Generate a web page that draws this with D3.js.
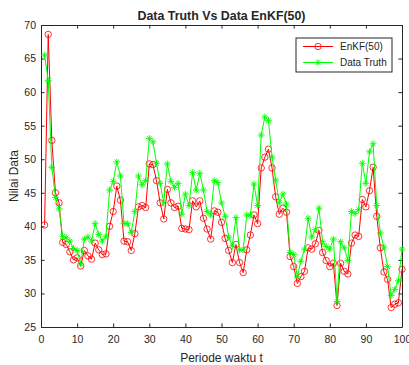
<!DOCTYPE html>
<html>
<head>
<meta charset="utf-8">
<script src="https://cdn.jsdelivr.net/npm/d3@7"></script>
<style>
  body { margin: 0; background: #fff; }
  text { font-family: "Liberation Sans", Arial, sans-serif; fill: #262626; }
</style>
</head>
<body>
<script>
// periode waktu t = 1..100
const periods = d3.range(1, 101);

const enkfValues = [
  40.2, 68.6, 52.8, 45.0, 43.5, 37.6, 37.3, 36.2, 35.0, 35.3,
  34.1, 36.4, 35.6, 35.1, 37.5, 36.5, 35.8, 35.9, 40.0, 42.2,
  46.0, 43.9, 37.8, 37.7, 36.4, 38.9, 42.9, 43.1, 42.8, 49.3,
  49.2, 46.8, 43.5, 41.1, 45.5, 43.5, 42.8, 43.0, 39.7, 39.6,
  39.5, 43.8, 42.9, 43.8, 41.2, 39.6, 38.1, 42.3, 42.1, 40.6,
  38.2, 36.4, 34.6, 37.3, 34.6, 33.1, 36.5, 38.7, 41.7, 40.4,
  48.7, 50.3, 51.5, 48.7, 44.4, 41.8, 42.7, 42.1, 35.5, 34.0,
  31.5, 32.5, 33.3, 36.8, 36.6, 37.4, 39.4, 36.1, 34.9, 34.0,
  34.5, 28.2, 34.5, 33.3, 32.9, 37.5, 38.7, 38.5, 44.0, 42.9,
  45.3, 48.8, 41.5, 36.8, 33.2, 32.1, 27.9, 28.4, 28.6, 33.6
];

const truthValues = [
  65.5, 61.7, 48.8, 44.3, 42.6, 38.5, 38.3, 37.8, 36.7, 36.4,
  34.4, 38.1, 38.4, 37.8, 40.4, 38.8, 37.8, 38.5, 45.4, 46.7,
  49.6, 47.5, 40.4, 40.4, 39.1, 42.2, 47.5, 46.2, 46.8, 53.1,
  52.6, 49.4, 46.4, 43.5, 49.3, 46.7, 45.8, 46.4, 41.8, 44.8,
  43.1, 48.0, 45.4, 47.9, 45.4, 42.2, 41.7, 46.8, 46.5, 43.5,
  41.5, 38.4, 37.1, 41.3, 36.5, 36.5, 41.7, 41.7, 46.3, 43.1,
  53.6, 56.3, 55.8, 50.3, 46.9, 43.5, 44.8, 43.3, 36.1, 35.8,
  32.5, 34.8, 36.6, 41.2, 38.4, 39.5, 42.7, 37.7, 37.0, 36.6,
  38.1, 28.8, 37.7, 36.8, 34.9, 42.2, 41.9, 42.5, 49.4, 46.4,
  51.1, 52.3, 43.1, 39.0, 36.9, 34.0, 29.7, 30.6, 31.9, 36.6
];

const xTicks = [0, 10, 20, 30, 40, 50, 60, 70, 80, 90, 100];
const yTicks = [25, 30, 35, 40, 45, 50, 55, 60, 65, 70];
const seriesNames = ["EnKF(50)", "Data Truth"];

const width = 409, height = 365;
const margin = {top: 25, right: 7, bottom: 38, left: 41};
const axisColor = "#262626";
const tickLen = 3.6;

const svg = d3.select("body").append("svg")
  .attr("width", width)
  .attr("height", height);

const x = d3.scaleLinear().domain([0, 100]).range([margin.left, width - margin.right]);
const y = d3.scaleLinear().domain([25, 70]).range([height - margin.bottom, margin.top]);

// axes (ticks inside, MATLAB style, box on)
const gx = svg.append("g")
  .attr("transform", `translate(0,${y(25)})`)
  .call(d3.axisBottom(x).tickValues(xTicks).tickSizeInner(-tickLen).tickSizeOuter(0).tickPadding(9));
const gy = svg.append("g")
  .attr("transform", `translate(${x(0)},0)`)
  .call(d3.axisLeft(y).tickValues(yTicks).tickSizeInner(-tickLen).tickSizeOuter(0).tickPadding(5));
const gxt = svg.append("g")
  .attr("transform", `translate(0,${y(70)})`)
  .call(d3.axisTop(x).tickValues(xTicks).tickSizeInner(-tickLen).tickSizeOuter(0).tickFormat(""));
const gyr = svg.append("g")
  .attr("transform", `translate(${x(100)},0)`)
  .call(d3.axisRight(y).tickValues(yTicks).tickSizeInner(-tickLen).tickSizeOuter(0).tickFormat(""));

[gx, gy, gxt, gyr].forEach(g => {
  g.selectAll("path, line").attr("stroke", axisColor).attr("stroke-width", 1);
  g.selectAll("text").style("font-size", "10.5px").attr("fill", axisColor);
});

// series
const line = d3.line()
  .x((d, i) => x(periods[i]))
  .y(d => y(d));

const starPath = r => {
  const a = r * Math.SQRT1_2;
  return `M${-r},0L${r},0M0,${-r}L0,${r}M${-a},${-a}L${a},${a}M${-a},${a}L${a},${-a}`;
};

svg.append("path")
  .datum(enkfValues)
  .attr("d", line)
  .attr("fill", "none")
  .attr("stroke", "#ff0000")
  .attr("stroke-width", 1);

svg.append("g").selectAll("circle")
  .data(enkfValues)
  .join("circle")
  .attr("cx", (d, i) => x(periods[i]))
  .attr("cy", d => y(d))
  .attr("r", 3.2)
  .attr("fill", "none")
  .attr("stroke", "#ff0000")
  .attr("stroke-width", 0.8);

svg.append("path")
  .datum(truthValues)
  .attr("d", line)
  .attr("fill", "none")
  .attr("stroke", "#00ff00")
  .attr("stroke-width", 1);

svg.append("g").selectAll("path")
  .data(truthValues)
  .join("path")
  .attr("transform", (d, i) => `translate(${x(periods[i])},${y(d)})`)
  .attr("d", starPath(3.4))
  .attr("fill", "none")
  .attr("stroke", "#00ff00")
  .attr("stroke-width", 0.9);

// titles
svg.append("text")
  .attr("x", (x(0) + x(100)) / 2)
  .attr("y", 20)
  .attr("text-anchor", "middle")
  .style("font-size", "12.4px")
  .style("font-weight", "bold")
  .attr("fill", "#000")
  .text("Data Truth Vs Data EnKF(50)");

svg.append("text")
  .attr("x", (x(0) + x(100)) / 2)
  .attr("y", 362)
  .attr("text-anchor", "middle")
  .style("font-size", "12px")
  .text("Periode waktu t");

svg.append("text")
  .attr("transform", `translate(18,${(y(25) + y(70)) / 2}) rotate(-90)`)
  .attr("text-anchor", "middle")
  .style("font-size", "12px")
  .text("Nilai Data");

// legend
const legend = svg.append("g").attr("transform", "translate(296,38)");
legend.append("rect")
  .attr("width", 96).attr("height", 34)
  .attr("fill", "#fff")
  .attr("stroke", axisColor)
  .attr("stroke-width", 1);

const legColors = ["#ff0000", "#00ff00"];
seriesNames.forEach((name, i) => {
  const ly = 8.5 + i * 16;
  const row = legend.append("g");
  row.append("line")
    .attr("x1", 7).attr("x2", 37).attr("y1", ly).attr("y2", ly)
    .attr("stroke", legColors[i]).attr("stroke-width", 1);
  if (i === 0) {
    row.append("circle").attr("cx", 22).attr("cy", ly).attr("r", 3.2)
      .attr("fill", "none").attr("stroke", legColors[i]).attr("stroke-width", 0.8);
  } else {
    row.append("path").attr("transform", `translate(22,${ly})`).attr("d", starPath(3.4))
      .attr("fill", "none").attr("stroke", legColors[i]).attr("stroke-width", 0.9);
  }
  row.append("text")
    .attr("x", 44).attr("y", ly)
    .attr("dy", "0.35em")
    .style("font-size", "10px")
    .text(name);
});
</script>
</body>
</html>
